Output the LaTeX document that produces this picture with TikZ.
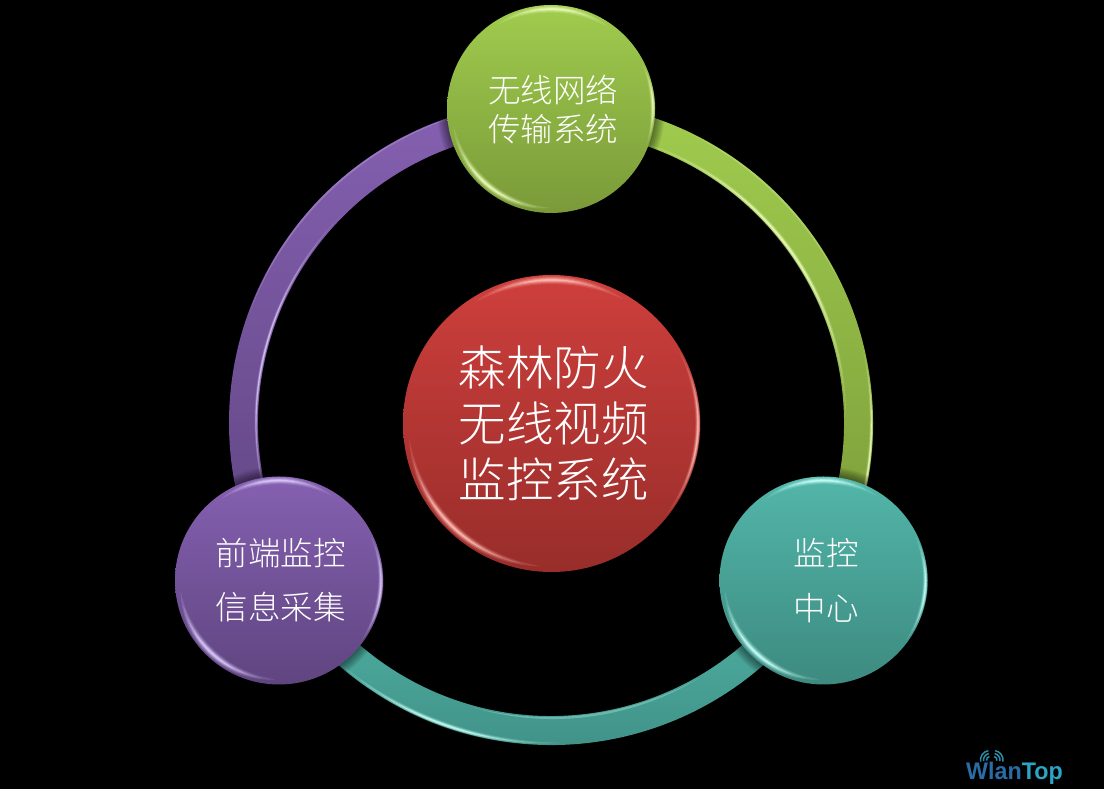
\documentclass[tikz,border=0pt]{standalone}
\usepackage{fontspec}
\newfontfamily\cjk{Noto Sans CJK SC Light}
\setsansfont{Liberation Sans}
\definecolor{gT}{HTML}{A0CC4E}\definecolor{gB}{HTML}{7A9A39}\definecolor{gH}{HTML}{EAFBB8}
\definecolor{rT}{HTML}{CE3F3C}\definecolor{rB}{HTML}{982D2A}\definecolor{rH}{HTML}{FFB9B2}
\definecolor{tT}{HTML}{52B6A9}\definecolor{tB}{HTML}{3D8A80}\definecolor{tH}{HTML}{C4FFF8}
\definecolor{pT}{HTML}{8560B1}\definecolor{pB}{HTML}{5F4580}\definecolor{pH}{HTML}{DCC8FA}
\definecolor{logoA}{HTML}{2A6CA6}\definecolor{logoB}{HTML}{2AA5C6}\definecolor{logoW}{HTML}{2A8CA6}
\newcommand{\lens}[8]{%
  \pgfmathsetmacro\lsp{#5-#4}%
  \pgfmathsetmacro\lk{4/3*tan(\lsp/4)}%
  \pgfmathsetmacro\la{atan(\lk)}%
  \pgfmathsetmacro\lo{#3*sqrt(1+\lk*\lk)+4/3*#6}%
  \pgfmathsetmacro\li{#3*sqrt(1+\lk*\lk)-4/3*#6}%
  \begin{scope}[shift={(#1,#2)}]
  \fill[#7,opacity=#8] (#4:#3) .. controls ({#4+\la}:\lo) and ({#5-\la}:\lo) .. (#5:#3)
     .. controls ({#5-\la}:\li) and ({#4+\la}:\li) .. cycle;
  \end{scope}}
\newcommand{\glint}[7]{%
  \pgfmathsetmacro\gm{(#4+#5)/2}\pgfmathsetmacro\gh{(#5-#4)/2}%
  \pgfmathsetmacro\gaa{\gm-.8*\gh}\pgfmathsetmacro\gab{\gm+.8*\gh}%
  \pgfmathsetmacro\gba{\gm-.6*\gh}\pgfmathsetmacro\gbb{\gm+.6*\gh}%
  \pgfmathsetmacro\gca{\gm-.4*\gh}\pgfmathsetmacro\gcb{\gm+.4*\gh}%
  \pgfmathsetmacro\gwa{#6*.7}\pgfmathsetmacro\gwb{#6*.45}\pgfmathsetmacro\gwc{#6*.22}%
  \edef\gcc{#4}\edef\gcd{#5}%
  \lens{#1}{#2}{#3}{\gcc}{\gcd}{#6}{#7}{.16}%
  \lens{#1}{#2}{#3}{\gaa}{\gab}{\gwa}{#7}{.28}%
  \lens{#1}{#2}{#3}{\gba}{\gbb}{\gwb}{#7}{.45}%
  \lens{#1}{#2}{#3}{\gca}{\gcb}{\gwc}{#7}{.8}}
\tikzset{
  orb/.style={circle,inner sep=0pt,outer sep=0pt,shade,shading=axis,text=white,align=center},
  bigtxt/.style={font=\cjk\fontsize{47.5}{56}\selectfont},
  smalltxt/.style={font=\cjk\fontsize{32.5}{#1}\selectfont},
  seg/.style={shade,shading=axis},
  wave/.style={draw=logoW,line width=1.5pt}
}
\begin{document}
\begin{tikzpicture}[x=1pt,y=1pt]
\useasboundingbox (0,0) rectangle (1104,789);
\fill[black] (0,0) rectangle (1104,789);
% ring
\coordinate (ring) at (551,366);
\begin{scope}[shift={(ring)}]
\path[seg,top color=gT,bottom color=gB] (90:322) arc[start angle=90,end angle=-30,radius=322] -- (-30:293) arc[start angle=-30,end angle=90,radius=293] -- cycle;
\path[seg,top color=pT,bottom color=pB] (90:322) arc[start angle=90,end angle=210,radius=322] -- (210:293) arc[start angle=210,end angle=90,radius=293] -- cycle;
\path[seg,top color=tT,bottom color=tB] (210:322) arc[start angle=210,end angle=330,radius=322] -- (330:293) arc[start angle=330,end angle=210,radius=293] -- cycle;
\end{scope}
% ring highlights
\glint{551}{366}{295}{0}{75}{2.8}{gH}
\glint{551}{366}{320.5}{-24}{14}{2}{gH}
\lens{551}{366}{321}{25}{65}{1}{gH}{.25}
\glint{551}{366}{320}{229}{272}{2.8}{tH}
\lens{551}{366}{295}{255}{300}{1.2}{tH}{.3}
\glint{551}{366}{295}{135}{200}{1.8}{pH}
\lens{551}{366}{321}{105}{160}{1}{pH}{.25}
% soft shadows on the ring
\foreach \cx/\cy in {551/680,823.5/208.5,279/208.5}{
  \foreach \dr in {10,9,...,1}{\fill[black,opacity=.05] (\cx,\cy) circle[radius=104+\dr];}}
% circles
\node[orb,minimum size=297pt,top color=rT,bottom color=rB,bigtxt] (center) at (551.5,365.5) {\hspace{4pt}森林防火\\\hspace{4pt}无线视频\\\hspace{4pt}监控系统};
\node[orb,minimum size=208pt,top color=gT,bottom color=gB,smalltxt=39] (top) at (551,680) {\hspace{4pt}无线网络\\\hspace{4pt}传输系统};
\node[orb,minimum size=208pt,top color=tT,bottom color=tB,smalltxt=55] (right) at (823.5,208.5) {\hspace{5pt}监控\\\hspace{5pt}中心};
\node[orb,minimum size=208pt,top color=pT,bottom color=pB,smalltxt=54] (left) at (279,208.5) {\hspace{3pt}前端监控\\\hspace{3pt}信息采集};
% highlights: red
\glint{551.5}{365.5}{143.5}{60}{122}{4.2}{rH}
\glint{551.5}{365.5}{146.5}{-38}{30}{2.8}{rH}
\glint{551.5}{365.5}{143}{186}{266}{4.2}{rH}
% green
\glint{551}{680}{100}{55}{122}{3.8}{gH}
\glint{551}{680}{102}{-20}{26}{2.6}{gH}
\glint{551}{680}{99}{190}{270}{4}{gH}
% teal
\glint{823.5}{208.5}{100}{58}{125}{3.8}{tH}
\glint{823.5}{208.5}{102}{-36}{26}{2.8}{tH}
\glint{823.5}{208.5}{99}{186}{268}{4.2}{tH}
% purple
\glint{279}{208.5}{100}{58}{125}{3.8}{pH}
\glint{279}{208.5}{102}{-36}{26}{2.8}{pH}
\glint{279}{208.5}{99}{186}{268}{4.2}{pH}
% logo
\node[anchor=base west,inner sep=0pt,font=\sffamily\bfseries\fontsize{24}{24}\selectfont,xscale=.97] (logo) at (966,9) {\textcolor{logoA}{Wlan}\textcolor{logoB}{Top}};
\coordinate (waveL) at (990,29);
\coordinate (waveR) at (993.5,29);
\foreach \r in {3.5,6.5,9.5}{
  \draw[wave] (waveL) ++(100:\r) arc[start angle=100,end angle=190,radius=\r];
  \draw[wave] (waveR) ++(80:\r) arc[start angle=80,end angle=-10,radius=\r];
}
\end{tikzpicture}
\end{document}
